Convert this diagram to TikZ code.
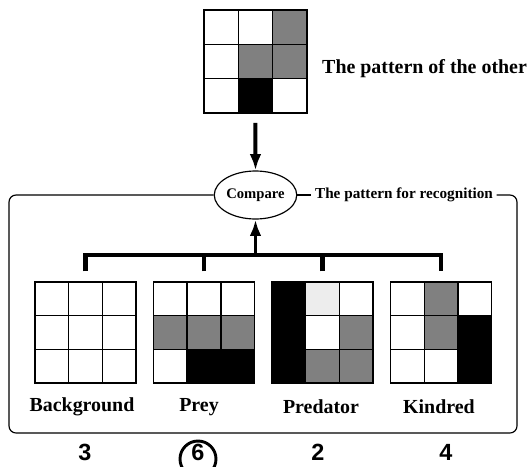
\documentclass[tikz,border=0pt]{standalone}
\usepackage{fontspec}
\setmainfont{Liberation Serif}
\newfontfamily\numfont{Liberation Sans}
\usetikzlibrary{shapes,arrows,arrows.meta,positioning}

% one 3x3 pattern: name, left, top, cell size, rows
\newcommand{\patgrid}[5]{%
  \foreach \rw [count=\ri] in {#5} {
    \foreach \cl [count=\ci] in \rw {
      \node (#1-\ri-\ci) at ({#2+(\ci-0.5)*#4},{#3+(\ri-0.5)*#4}) [Cell, minimum size=#4*0.03cm, \cl] {};
    }
  }
}

\begin{document}
\begin{tikzpicture}[x=0.03cm, y=-0.03cm]
	\tikzstyle{Cell}	= [rectangle, draw, line width=1.2pt, inner sep=0pt]
	\tikzstyle{Blank}	= [fill=white]
	\tikzstyle{Dots}	= [fill=black!50]
	\tikzstyle{Dark}	= [fill=black]
	\tikzstyle{Faint}	= [fill=black!7]
	\tikzstyle{Big}		= [font=\fontsize{17}{20}\selectfont\bfseries, inner sep=0pt]
	\tikzstyle{Small}	= [font=\fontsize{13}{15}\selectfont\bfseries, inner sep=3pt]
	\tikzstyle{Num}		= [font=\numfont\fontsize{20}{24}\selectfont\bfseries, inner sep=0pt]
	\tikzstyle{Frame}	= [line width=1pt, rounded corners=6pt]
	\tikzstyle{Bar}		= [line width=4pt, line join=miter]
	\tikzstyle{Push}	= [line width=3.4pt, -{Latex[length=14pt, width=10pt]}]

	\useasboundingbox (0,0) rectangle (529,466);

	% the pattern of the other
	\patgrid{other}{204}{10}{34.3}{{Blank,Blank,Dots},{Blank,Dots,Dots},{Blank,Dark,Blank}}
	\node (otherlab) at (322,69) [Big, anchor=west] {The pattern of the other};

	% compare
	\node (cmp) at (255.5,195) [ellipse, draw, line width=1pt, minimum width=2.37cm, minimum height=1.44cm, inner sep=0pt, font=\fontsize{12.5}{14}\selectfont\bfseries] {Compare};
	\node (recog) at (404,195) [Small] {The pattern for recognition};

	% the patterns for recognition
	\patgrid{bg}{35}{282}{33.7}{{Blank,Blank,Blank},{Blank,Blank,Blank},{Blank,Blank,Blank}}
	\patgrid{prey}{153.5}{282}{33.7}{{Blank,Blank,Blank},{Dots,Dots,Dots},{Blank,Dark,Dark}}
	\patgrid{pred}{272}{282}{33.7}{{Dark,Faint,Blank},{Dark,Blank,Dots},{Dark,Dots,Dots}}
	\patgrid{kin}{390.5}{282}{33.7}{{Blank,Dots,Blank},{Blank,Dots,Dark},{Blank,Blank,Dark}}

	\node (bglab) at (82,407) [Big] {Background};
	\node (preylab) at (199,407) [Big] {Prey};
	\node (predlab) at (321,407) [Big] {Predator};
	\node (kinlab) at (439,407) [Big] {Kindred};

	\node (n1) at (85,452) [Num] {3};
	\node (n2) at (198,452) [Num] {6};
	\node (n3) at (318,452) [Num] {2};
	\node (n4) at (446,452) [Num] {4};
	\node (ring) at (198,459) [circle, draw, line width=2.5pt, minimum size=1.08cm] {};

	% frame round the patterns
	\coordinate (fTL) at (9,195);
	\coordinate (fBR) at (517,433);
	\draw [Frame] (cmp.west) -- (fTL) -- (fTL |- fBR) -- (fBR) -- (fBR |- fTL) -- (recog.east);
	\draw [Frame] (cmp.east) -- (recog.west);

	% arrows and bar
	\coordinate (hub) at (255.5,255);
	\draw [Push, shorten <=8pt] (other-3-2.south) to (cmp.north);
	\draw [Push] (hub) to (cmp.south);
	\draw [Bar, shorten <=8.5pt, shorten >=8.5pt] (bg-1-2.north) |- (hub) -| (kin-1-2.north);
	\draw [Bar, shorten <=8.5pt] (prey-1-2.north) to (prey-1-2.north |- hub);
	\draw [Bar, shorten <=8.5pt] (pred-1-2.north) to (pred-1-2.north |- hub);
\end{tikzpicture}
\end{document}
